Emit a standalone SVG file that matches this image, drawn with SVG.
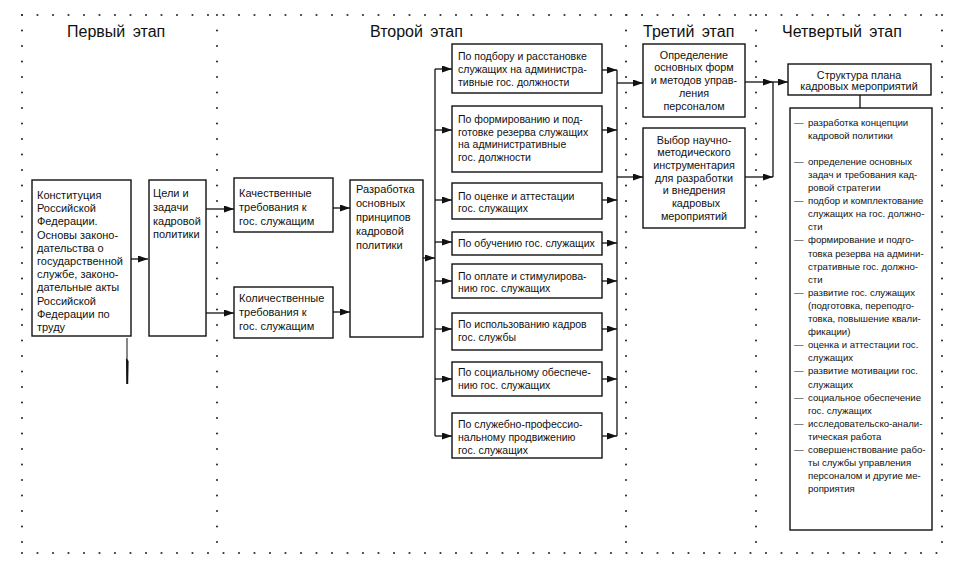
<svg xmlns="http://www.w3.org/2000/svg" width="955" height="569" viewBox="0 0 955 569">
<defs>
<marker id="ah" markerWidth="10" markerHeight="7" refX="10" refY="3.5" orient="auto" markerUnits="userSpaceOnUse">
<path d="M0,0 L10,3.5 L0,7 z" fill="#111"/>
</marker>
<style>
.box{fill:#fff;stroke:#111;stroke-width:1.4}
.dots{stroke:#333;stroke-width:2.2;stroke-linecap:round;stroke-dasharray:0 15.5;fill:none}
.t{font-family:"Liberation Sans",Arial,sans-serif;fill:#111}
.s11{font-size:11px}
.s105{font-size:10.5px}
.s108{font-size:10.8px}
.s10{font-size:9.6px}
.title{font-family:"Liberation Sans",Arial,sans-serif;font-size:16px;fill:#111;word-spacing:3px}
.mid{text-anchor:middle}
.con{fill:none;stroke:#111;stroke-width:1.3}
.arr{marker-end:url(#ah)}
</style>
</defs>
<rect width="955" height="569" fill="#fff"/>

<g id="frame">
<line class="dots" x1="22" y1="15" x2="945" y2="15"/>
<line class="dots" x1="22" y1="553" x2="945" y2="553"/>
<line class="dots" x1="22" y1="15" x2="22" y2="553"/>
<line class="dots" x1="217" y1="15" x2="217" y2="553"/>
<line class="dots" x1="626" y1="15" x2="626" y2="553"/>
<line class="dots" x1="756" y1="15" x2="756" y2="553"/>
<line class="dots" x1="942" y1="15" x2="942" y2="553"/>
</g>

<g id="titles">
<text class="title" x="67" y="37">Первый этап</text>
<text class="title" x="370" y="37">Второй этап</text>
<text class="title" x="643" y="37">Третий этап</text>
<text class="title" x="782" y="37">Четвертый этап</text>
</g>

<g id="connectors">
<path class="con arr" d="M131,259 H148"/>
<path class="con arr" d="M206,209 H234"/>
<path class="con arr" d="M206,313 H234"/>
<path class="con arr" d="M333,208 H350"/>
<path class="con arr" d="M333,312 H350"/>
<path class="con arr" d="M423,258 H435"/>
<path class="con" d="M435,69 V436"/>
<path class="con arr" d="M435,69 H452"/>
<path class="con arr" d="M435,130 H452"/>
<path class="con arr" d="M435,200 H452"/>
<path class="con arr" d="M435,242 H452"/>
<path class="con arr" d="M435,281 H452"/>
<path class="con arr" d="M435,329 H452"/>
<path class="con arr" d="M435,379 H452"/>
<path class="con arr" d="M435,436 H452"/>
<path class="con arr" d="M602,70 H617"/>
<path class="con arr" d="M602,130 H617"/>
<path class="con arr" d="M602,200 H617"/>
<path class="con arr" d="M602,243 H617"/>
<path class="con arr" d="M602,281 H617"/>
<path class="con arr" d="M602,329 H617"/>
<path class="con arr" d="M602,379 H617"/>
<path class="con arr" d="M602,436 H617"/>
<path class="con" d="M617,70 V436"/>
<path class="con arr" d="M617,83 H643"/>
<path class="con arr" d="M617,177 H643"/>
<path class="con arr" d="M745,82 H773"/>
<path class="con arr" d="M745,177 H773"/>
<path class="con" d="M773,82 V177"/>
<path class="con arr" d="M773,82 H788"/>
<path class="con" d="M860,95 V108"/>
</g>

<g id="mark">
<line x1="127" y1="338" x2="127" y2="384" stroke="#111" stroke-width="1"/>
<polygon points="126,358 128.6,361 128.2,384 126.4,384" fill="#111"/>
</g>

<g id="n-konst">
<rect class="box" x="32" y="180" width="99" height="156"/>
<text class="t s11" x="37" y="199">Конституция</text>
<text class="t s11" x="37" y="212.2">Российской</text>
<text class="t s11" x="37" y="225.4">Федерации.</text>
<text class="t s11" x="37" y="238.6">Основы законо-</text>
<text class="t s11" x="37" y="251.8">дательства о</text>
<text class="t s11" x="37" y="265">государственной</text>
<text class="t s11" x="37" y="278.2">службе, законо-</text>
<text class="t s11" x="37" y="291.4">дательные акты</text>
<text class="t s11" x="37" y="304.6">Российской</text>
<text class="t s11" x="37" y="317.8">Федерации по</text>
<text class="t s11" x="37" y="331">труду</text>
</g>

<g id="n-celi">
<rect class="box" x="149" y="180" width="57" height="156"/>
<text class="t s11" x="153" y="197">Цели и</text>
<text class="t s11" x="153" y="211">задачи</text>
<text class="t s11" x="153" y="225">кадровой</text>
<text class="t s11" x="153" y="238">политики</text>
</g>

<g id="n-kach">
<rect class="box" x="234" y="178" width="99" height="54"/>
<text class="t s11" x="239" y="197">Качественные</text>
<text class="t s11" x="239" y="211">требования к</text>
<text class="t s11" x="239" y="225">гос. служащим</text>
</g>

<g id="n-kol">
<rect class="box" x="234" y="287" width="99" height="51"/>
<text class="t s11" x="239" y="302">Количественные</text>
<text class="t s11" x="239" y="316">требования к</text>
<text class="t s11" x="239" y="330">гос. служащим</text>
</g>

<g id="n-razr">
<rect class="box" x="350" y="180" width="73" height="157"/>
<text class="t s11" x="356" y="193">Разработка</text>
<text class="t s11" x="356" y="207">основных</text>
<text class="t s11" x="356" y="221">принципов</text>
<text class="t s11" x="356" y="235">кадровой</text>
<text class="t s11" x="356" y="249">политики</text>
</g>

<g id="n-b1">
<rect class="box" x="452" y="44" width="150" height="49"/>
<text class="t s105" x="458" y="60">По подбору и расстановке</text>
<text class="t s105" x="458" y="73">служащих на администра-</text>
<text class="t s105" x="458" y="86">тивные гос. должности</text>
</g>
<g id="n-b2">
<rect class="box" x="452" y="106" width="150" height="66"/>
<text class="t s105" x="458" y="123">По формированию и под-</text>
<text class="t s105" x="458" y="136">готовке резерва служащих</text>
<text class="t s105" x="458" y="148">на административные</text>
<text class="t s105" x="458" y="161">гос. должности</text>
</g>
<g id="n-b3">
<rect class="box" x="452" y="183" width="150" height="36"/>
<text class="t s105" x="458" y="199.5">По оценке и аттестации</text>
<text class="t s105" x="458" y="211.5">гос. служащих</text>
</g>
<g id="n-b4">
<rect class="box" x="452" y="232" width="150" height="23"/>
<text class="t s105" x="458" y="247">По обучению гос. служащих</text>
</g>
<g id="n-b5">
<rect class="box" x="452" y="264" width="150" height="34"/>
<text class="t s105" x="458" y="279.5">По оплате и стимулирова-</text>
<text class="t s105" x="458" y="292">нию гос. служащих</text>
</g>
<g id="n-b6">
<rect class="box" x="452" y="313" width="150" height="37"/>
<text class="t s105" x="458" y="328">По использованию кадров</text>
<text class="t s105" x="458" y="341">гос. службы</text>
</g>
<g id="n-b7">
<rect class="box" x="452" y="362" width="150" height="34"/>
<text class="t s105" x="458" y="376">По социальному обеспече-</text>
<text class="t s105" x="458" y="388.5">нию гос. служащих</text>
</g>
<g id="n-b8">
<rect class="box" x="452" y="413" width="150" height="45"/>
<text class="t s105" x="458" y="428">По служебно-профессио-</text>
<text class="t s105" x="458" y="441">нальному продвижению</text>
<text class="t s105" x="458" y="454">гос. служащих</text>
</g>

<g id="n-opr">
<rect class="box" x="643" y="44" width="102" height="73"/>
<text class="t s108 mid" x="694" y="58.5">Определение</text>
<text class="t s108 mid" x="694" y="71.3">основных форм</text>
<text class="t s108 mid" x="694" y="84.1">и методов управ-</text>
<text class="t s108 mid" x="694" y="96.9">ления</text>
<text class="t s108 mid" x="694" y="109.7">персоналом</text>
</g>
<g id="n-vyb">
<rect class="box" x="643" y="128" width="102" height="100"/>
<text class="t s108 mid" x="694" y="143.5">Выбор научно-</text>
<text class="t s108 mid" x="694" y="156.2">методического</text>
<text class="t s108 mid" x="694" y="168.9">инструментария</text>
<text class="t s108 mid" x="694" y="181.6">для разработки</text>
<text class="t s108 mid" x="694" y="194.3">и внедрения</text>
<text class="t s108 mid" x="696" y="207">кадровых</text>
<text class="t s108 mid" x="694" y="219.7">мероприятий</text>
</g>

<g id="n-struct">
<rect class="box" x="788" y="64" width="143" height="31"/>
<text class="t s108 mid" x="859" y="78.5">Структура плана</text>
<text class="t s108 mid" x="859" y="90">кадровых мероприятий</text>
</g>

<g id="n-list">
<rect class="box" x="790" y="108" width="142" height="422"/>
<g class="t s10">
<text x="794" y="125.5">—</text><text x="808" y="125.5">разработка концепции</text>
<text x="808" y="138.6">кадровой политики</text>
<text x="794" y="164.8">—</text><text x="808" y="164.8">определение основных</text>
<text x="808" y="177.9">задач и требования кад-</text>
<text x="808" y="191">ровой стратегии</text>
<text x="794" y="204.1">—</text><text x="808" y="204.1">подбор и комплектование</text>
<text x="808" y="217.2">служащих на гос. должно-</text>
<text x="808" y="230.3">сти</text>
<text x="794" y="243.4">—</text><text x="808" y="243.4">формирование и подго-</text>
<text x="808" y="256.5">товка резерва на админи-</text>
<text x="808" y="269.6">стративные гос. должно-</text>
<text x="808" y="282.7">сти</text>
<text x="794" y="295.8">—</text><text x="808" y="295.8">развитие гос. служащих</text>
<text x="808" y="308.9">(подготовка, переподго-</text>
<text x="808" y="322">товка, повышение квали-</text>
<text x="808" y="335.1">фикации)</text>
<text x="794" y="348.2">—</text><text x="808" y="348.2">оценка и аттестации гос.</text>
<text x="808" y="361.3">служащих</text>
<text x="794" y="374.4">—</text><text x="808" y="374.4">развитие мотивации гос.</text>
<text x="808" y="387.5">служащих</text>
<text x="794" y="400.6">—</text><text x="808" y="400.6">социальное обеспечение</text>
<text x="808" y="413.7">гос. служащих</text>
<text x="794" y="426.8">—</text><text x="808" y="426.8">исследовательско-анали-</text>
<text x="808" y="439.9">тическая работа</text>
<text x="794" y="453">—</text><text x="808" y="453">совершенствование рабо-</text>
<text x="808" y="466.1">ты службы управления</text>
<text x="808" y="479.2">персоналом и другие ме-</text>
<text x="808" y="492.3">роприятия</text>
</g>
</g>
</svg>
